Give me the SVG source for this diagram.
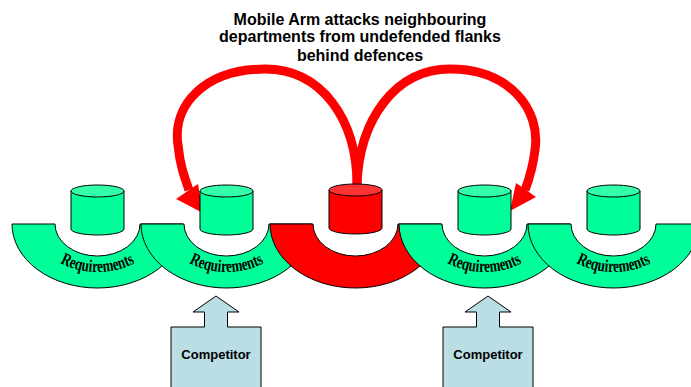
<svg xmlns="http://www.w3.org/2000/svg" xmlns:xlink="http://www.w3.org/1999/xlink" width="691" height="387" viewBox="0 0 691 387">
  <style>
    .ring { stroke: #000; stroke-width: 1; }
    .ring.green { fill: #00FF99; }
    .ring.red { fill: #FF0000; }
    .body { stroke: #000; stroke-width: 1; }
    .body.green { fill: #00FF99; }
    .lid.green { fill: #33FFAA; stroke: #000; stroke-width: 1; }
    .body.red { fill: #FF0000; }
    .lid.red { fill: #FF3333; stroke: #000; stroke-width: 1; }
    .req { font-family: "Liberation Serif", "DejaVu Serif", serif; font-weight: bold; font-size: 17.5px; fill: #000; }
    .title { font-family: "Liberation Sans", Arial, sans-serif; font-weight: bold; font-size: 16px; fill: #000; text-anchor: middle; }
    .comp { fill: #BADEE4; stroke: #000; stroke-width: 1; }
    .comp-label { font-family: "Liberation Sans", Arial, sans-serif; font-weight: bold; font-size: 13px; fill: #000; text-anchor: middle; }
    .attack { fill: none; stroke: #FF0000; stroke-width: 9; stroke-linecap: butt; }
    .head { fill: #FF0000; }
  </style>
  <defs>
    <!-- mid-line of the half ring, used as baseline for the curved label -->
    <path id="labelArc" d="M -64,224 A 64,48 0 0 0 64,224"/>
  </defs>

  <!-- title -->
  <g id="title">
    <text class="title" x="360" y="25">Mobile Arm attacks neighbouring</text>
    <text class="title" x="360" y="42">departments from undefended flanks</text>
    <text class="title" x="360" y="61">behind defences</text>
  </g>

  <!-- attack arrows from the mobile arm -->
  <g id="connectors">
    <path class="attack" d="M 357,185 C 357,120 322,69 265,69 C 205,69 172,105 178,145 C 180,165 184,176 189,190"/>
    <polygon class="head" points="176,199 198,184 203,213"/>
    <path class="attack" d="M 357,185 C 359,120 395,69 450,69 C 510,69 541,110 535,150 C 533,166 530,177 525,190"/>
    <polygon class="head" points="516,183 536,197 510,211"/>
  </g>

  <!-- departments: half ring, data store, label -->
  <g id="dept1" transform="translate(97.5,0)">
    <path class="ring green" d="M -85.5,224 A 85.5,64 0 0 0 85.5,224 L 42.5,224 A 42.5,32 0 0 1 -42.5,224 Z"/>
    <path class="body green" d="M -26.5,191 L -26.5,229 A 26.5,6 0 0 0 26.5,229 L 26.5,191 Z"/>
    <ellipse class="lid green" cx="0" cy="191" rx="26.5" ry="6"/>
    <text class="req"><textPath xlink:href="#labelArc" href="#labelArc" startOffset="50%" text-anchor="middle" textLength="78" lengthAdjust="spacingAndGlyphs">Requirements</textPath></text>
  </g>
  <g id="dept2" transform="translate(226.5,0)">
    <path class="ring green" d="M -85.5,224 A 85.5,64 0 0 0 85.5,224 L 42.5,224 A 42.5,32 0 0 1 -42.5,224 Z"/>
    <path class="body green" d="M -26.5,191 L -26.5,229 A 26.5,6 0 0 0 26.5,229 L 26.5,191 Z"/>
    <ellipse class="lid green" cx="0" cy="191" rx="26.5" ry="6"/>
    <text class="req"><textPath xlink:href="#labelArc" href="#labelArc" startOffset="50%" text-anchor="middle" textLength="78" lengthAdjust="spacingAndGlyphs">Requirements</textPath></text>
  </g>
  <g id="mobileArm" transform="translate(355.5,0)">
    <path class="ring red" d="M -85.5,224 A 85.5,64 0 0 0 85.5,224 L 42.5,224 A 42.5,32 0 0 1 -42.5,224 Z"/>
    <path class="body red" d="M -26.5,190 L -26.5,228 A 26.5,6 0 0 0 26.5,228 L 26.5,190 Z"/>
    <ellipse class="lid red" cx="0" cy="190" rx="26.5" ry="6"/>
  </g>
  <g id="dept4" transform="translate(484.5,0)">
    <path class="ring green" d="M -85.5,224 A 85.5,64 0 0 0 85.5,224 L 42.5,224 A 42.5,32 0 0 1 -42.5,224 Z"/>
    <path class="body green" d="M -26.5,191 L -26.5,229 A 26.5,6 0 0 0 26.5,229 L 26.5,191 Z"/>
    <ellipse class="lid green" cx="0" cy="191" rx="26.5" ry="6"/>
    <text class="req"><textPath xlink:href="#labelArc" href="#labelArc" startOffset="50%" text-anchor="middle" textLength="78" lengthAdjust="spacingAndGlyphs">Requirements</textPath></text>
  </g>
  <g id="dept5" transform="translate(613.5,0)">
    <path class="ring green" d="M -85.5,224 A 85.5,64 0 0 0 85.5,224 L 42.5,224 A 42.5,32 0 0 1 -42.5,224 Z"/>
    <path class="body green" d="M -26.5,191 L -26.5,229 A 26.5,6 0 0 0 26.5,229 L 26.5,191 Z"/>
    <ellipse class="lid green" cx="0" cy="191" rx="26.5" ry="6"/>
    <text class="req"><textPath xlink:href="#labelArc" href="#labelArc" startOffset="50%" text-anchor="middle" textLength="78" lengthAdjust="spacingAndGlyphs">Requirements</textPath></text>
  </g>

  <!-- competitors pushing up into the departments -->
  <g id="competitor1" transform="translate(216,0)">
    <polygon class="comp" points="-45,392 -45,327 -11.5,327 -11.5,312 -23,312 0,296 23,312 11.5,312 11.5,327 45,327 45,392"/>
    <text class="comp-label" x="0" y="359">Competitor</text>
  </g>
  <g id="competitor2" transform="translate(488,0)">
    <polygon class="comp" points="-45,392 -45,327 -11.5,327 -11.5,312 -23,312 0,296 23,312 11.5,312 11.5,327 45,327 45,392"/>
    <text class="comp-label" x="0" y="359">Competitor</text>
  </g>
</svg>
